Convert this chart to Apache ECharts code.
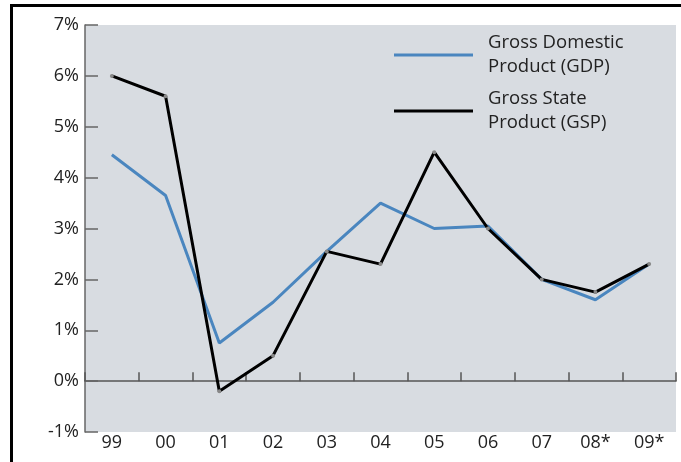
<!DOCTYPE html>
<html>
<head>
<meta charset="utf-8">
<script src="https://cdn.jsdelivr.net/npm/echarts@6/dist/echarts.min.js"></script>
<style>
  html, body { margin: 0; padding: 0; background: #fff; }
  #main { width: 681px; height: 462px; }
</style>
</head>
<body>
<div id="main"></div>
<script>
// 年份
var years = ['99', '00', '01', '02', '03', '04', '05', '06', '07', '08*', '09*'];
// Gross Domestic Product (%)
var gdp = [4.45, 3.65, 0.75, 1.55, 2.55, 3.5, 3.0, 3.05, 2.0, 1.6, 2.3];
// Gross State Product (%)
var gsp = [6.0, 5.6, -0.2, 0.5, 2.55, 2.3, 4.5, 3.0, 2.0, 1.75, 2.3];
var yTicks = [-1, 0, 1, 2, 3, 4, 5, 6, 7];

var myChart = echarts.init(document.getElementById('main'));
var font = 'Open Sans';
var gdpName = 'Gross Domestic\nProduct (GDP)';
var gspName = 'Gross State\nProduct (GSP)';

var option = {
  animation: false,
  textStyle: { fontFamily: font },
  graphic: [
    {
      type: 'rect',
      shape: { x: 11.5, y: 5.5, width: 720, height: 520 },
      style: { fill: 'none', stroke: '#000', lineWidth: 3 },
      z: 100
    }
  ],
  legend: {
    orient: 'vertical',
    left: 394,
    top: 31,
    padding: 0,
    itemWidth: 79,
    itemHeight: 3,
    itemGap: 8,
    textStyle: {
      fontFamily: font,
      fontSize: 18.5,
      lineHeight: 24,
      color: '#222',
      padding: [0, 0, 0, 10]
    },
    data: [
      { name: gdpName, icon: 'rect', itemStyle: { color: '#4a86bf' } },
      { name: gspName, icon: 'rect', itemStyle: { color: '#000' } }
    ]
  },
  grid: {
    left: 85,
    right: 5,
    top: 25,
    bottom: 30,
    show: true,
    backgroundColor: '#d8dce1',
    borderWidth: 0
  },
  xAxis: [
    {
      type: 'category',
      data: years,
      boundaryGap: true,
      axisLine: { onZero: true, lineStyle: { color: '#555', width: 1.5 } },
      axisTick: { show: true, inside: true, length: 9, lineStyle: { color: '#555', width: 1.5 } },
      axisLabel: { show: false },
      splitLine: { show: false }
    },
    {
      type: 'category',
      data: years,
      position: 'bottom',
      boundaryGap: true,
      axisLine: { show: false, onZero: false },
      axisTick: { show: false },
      axisLabel: { color: '#222', fontSize: 18, margin: 2 },
      splitLine: { show: false }
    }
  ],
  yAxis: {
    type: 'value',
    min: yTicks[0],
    max: yTicks[yTicks.length - 1],
    interval: 1,
    axisLine: { show: true, lineStyle: { color: '#666', width: 1.5 } },
    axisTick: { show: true, inside: true, length: 13, lineStyle: { color: '#666', width: 1.5 } },
    axisLabel: { color: '#222', fontSize: 18, margin: 6, formatter: '{value}%' },
    splitLine: { show: false }
  },
  series: [
    {
      name: gdpName,
      type: 'line',
      xAxisIndex: 0,
      data: gdp,
      symbol: 'none',
      lineStyle: { color: '#4a86bf', width: 3 },
      itemStyle: { color: '#4a86bf' }
    },
    {
      name: gspName,
      type: 'line',
      xAxisIndex: 0,
      data: gsp,
      symbol: 'circle',
      symbolSize: 4,
      lineStyle: { color: '#000', width: 3 },
      itemStyle: { color: '#888' }
    }
  ]
};

myChart.setOption(option);
</script>
</body>
</html>
